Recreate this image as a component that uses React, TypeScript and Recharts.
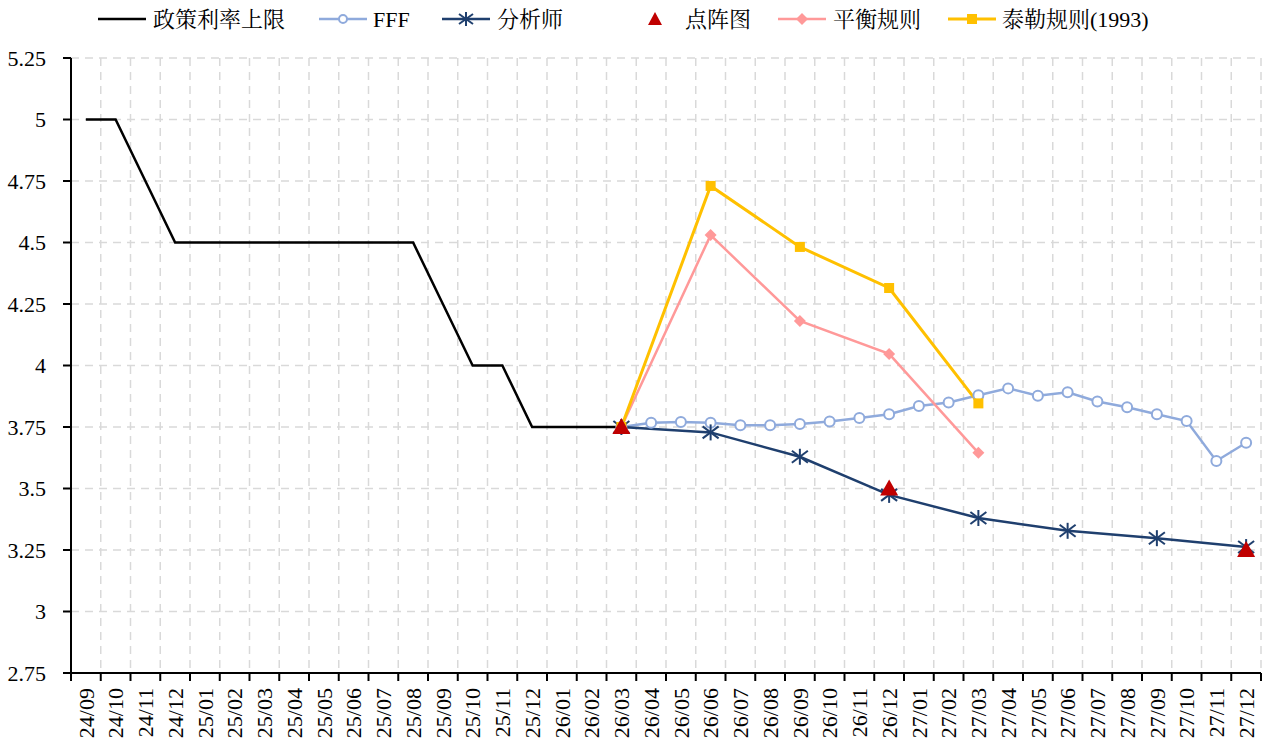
import { LineChart, Line, XAxis, YAxis, CartesianGrid } from 'recharts';

// 月份（横轴）
const months = [
    '24/09', '24/10', '24/11', '24/12', '25/01', '25/02', '25/03', '25/04', '25/05', '25/06',
    '25/07', '25/08', '25/09', '25/10', '25/11', '25/12', '26/01', '26/02', '26/03', '26/04',
    '26/05', '26/06', '26/07', '26/08', '26/09', '26/10', '26/11', '26/12', '27/01', '27/02',
    '27/03', '27/04', '27/05', '27/06', '27/07', '27/08', '27/09', '27/10', '27/11', '27/12',
];

// 政策利率上限: 24/09 ~ 26/03
const policyRate = [5, 5, 4.75, 4.5, 4.5, 4.5, 4.5, 4.5, 4.5, 4.5, 4.5, 4.5, 4.25, 4, 4, 3.75, 3.75, 3.75, 3.75];

// FFF: 26/03 ~ 27/12
const fffStartMonth = '26/03';
const fff = [3.75, 3.767, 3.77, 3.767, 3.757, 3.757, 3.762, 3.772, 3.787, 3.802, 3.835, 3.85, 3.879, 3.907, 3.877, 3.891, 3.854, 3.83, 3.802, 3.774, 3.612, 3.686];

// 季度预测
const quarterMonths = ['26/03', '26/06', '26/09', '26/12', '27/03', '27/06', '27/09', '27/12'];
const analyst = [3.75, 3.728, 3.629, 3.474, 3.38, 3.328, 3.298, 3.262];
const dotPlot = [3.75, null, null, 3.5, null, null, null, 3.25];
const balancedRule = [3.75, 4.53, 4.181, 4.047, 3.645, null, null, null];
const taylorRule = [3.75, 4.73, 4.482, 4.315, 3.846, null, null, null];

const yTicks = [2.75, 3, 3.25, 3.5, 3.75, 4, 4.25, 4.5, 4.75, 5, 5.25];

const C_POLICY = '#000000';
const C_FFF = '#8FAADC';
const C_ANALYST = '#1F3F6E';
const C_DOT = '#C00000';
const C_BAL = '#FF9999';
const C_TAYLOR = '#FFC000';

const FONT = '"Liberation Serif", "Noto Serif CJK SC", "Noto Sans CJK SC", serif';

const fffStart = months.indexOf(fffStartMonth);
const data = months.map((m, i) => {
    const q = quarterMonths.indexOf(m);
    return {
        month: m,
        policy: i < policyRate.length ? policyRate[i] : null,
        fff: i >= fffStart ? fff[i - fffStart] : null,
        analyst: q >= 0 ? analyst[q] : null,
        dot: q >= 0 ? dotPlot[q] : null,
        balanced: q >= 0 ? balancedRule[q] : null,
        taylor: q >= 0 ? taylorRule[q] : null,
    };
});

const PLOT_W = 1190;
const BAND = PLOT_W / months.length;

const empty = (key: string) => <g key={key} />;

const CircleDot = (props: any) => {
    const { cx, cy, value, index } = props;
    if (value == null || cy == null) return empty(`c-${index}`);
    return <circle key={`c-${index}`} cx={cx} cy={cy} r={5} fill="#fff" stroke={C_FFF} strokeWidth={2} />;
};

const StarDot = (props: any) => {
    const { cx, cy, value, index } = props;
    if (value == null || cy == null) return empty(`s-${index}`);
    return (
        <g key={`s-${index}`} stroke={C_ANALYST} strokeWidth={2}>
            <line x1={cx} y1={cy - 8} x2={cx} y2={cy + 8} />
            <line x1={cx - 8} y1={cy - 6} x2={cx + 8} y2={cy + 6} />
            <line x1={cx - 8} y1={cy + 6} x2={cx + 8} y2={cy - 6} />
        </g>
    );
};

const TriangleDot = (props: any) => {
    const { cx, cy, value, index } = props;
    if (value == null || cy == null) return empty(`t-${index}`);
    return <path key={`t-${index}`} d={`M${cx},${cy - 9} L${cx + 9},${cy + 7} L${cx - 9},${cy + 7} Z`} fill={C_DOT} />;
};

const DiamondDot = (props: any) => {
    const { cx, cy, value, index } = props;
    if (value == null || cy == null) return empty(`d-${index}`);
    return <path key={`d-${index}`} d={`M${cx},${cy - 6} L${cx + 6},${cy} L${cx},${cy + 6} L${cx - 6},${cy} Z`} fill={C_BAL} />;
};

const SquareDot = (props: any) => {
    const { cx, cy, value, index } = props;
    if (value == null || cy == null) return empty(`q-${index}`);
    return <rect key={`q-${index}`} x={cx - 5} y={cy - 5} width={10} height={10} fill={C_TAYLOR} />;
};

const MonthTick = (props: any) => {
    const { x, y, payload, index } = props;
    const last = index === months.length - 1;
    return (
        <g>
            <line x1={x - BAND / 2} y1={y} x2={x - BAND / 2} y2={y + 8} stroke="#000" strokeWidth={2} />
            {last && <line x1={x + BAND / 2} y1={y} x2={x + BAND / 2} y2={y + 8} stroke="#000" strokeWidth={2} />}
            <text
                x={x}
                y={y + 15}
                dy="0.35em"
                transform={`rotate(-90, ${x}, ${y + 15})`}
                textAnchor="end"
                fill="#000"
                style={{ fontFamily: FONT, fontSize: 22 }}
            >
                {payload.value}
            </text>
        </g>
    );
};

const ValueTick = (props: any) => {
    const { x, y, payload } = props;
    return (
        <text x={x} y={y} dy="0.35em" textAnchor="end" fill="#000" style={{ fontFamily: FONT, fontSize: 22 }}>
            {payload.value}
        </text>
    );
};

// 图例
const legendItems = [
    { label: '政策利率上限', x: 98, textX: 153, kind: 'policy' },
    { label: 'FFF', x: 319, textX: 373, kind: 'fff' },
    { label: '分析师', x: 442, textX: 497, kind: 'analyst' },
    { label: '点阵图', x: 655, textX: 685, kind: 'dot' },
    { label: '平衡规则', x: 778, textX: 833, kind: 'balanced' },
    { label: '泰勒规则(1993)', x: 948, textX: 1002, kind: 'taylor' },
];

function LegendIcon({ kind, x }: { kind: string; x: number }) {
    const y = 19;
    const mid = x + 24;
    const line = (color: string, w = 2.5) => <line x1={x} y1={y} x2={x + 48} y2={y} stroke={color} strokeWidth={w} />;
    switch (kind) {
        case 'policy':
            return line(C_POLICY);
        case 'fff':
            return <g>{line(C_FFF)}<circle cx={mid} cy={y} r={4} fill="#fff" stroke={C_FFF} strokeWidth={2} /></g>;
        case 'analyst':
            return (
                <g>
                    {line(C_ANALYST)}
                    <g stroke={C_ANALYST} strokeWidth={2}>
                        <line x1={mid} y1={y - 7} x2={mid} y2={y + 7} />
                        <line x1={mid - 7} y1={y - 5} x2={mid + 7} y2={y + 5} />
                        <line x1={mid - 7} y1={y + 5} x2={mid + 7} y2={y - 5} />
                    </g>
                </g>
            );
        case 'dot':
            return <path d={`M${x},${y - 7} L${x + 7},${y + 6} L${x - 7},${y + 6} Z`} fill={C_DOT} />;
        case 'balanced':
            return <g>{line(C_BAL)}<path d={`M${mid},${y - 6} L${mid + 6},${y} L${mid},${y + 6} L${mid - 6},${y} Z`} fill={C_BAL} /></g>;
        default:
            return <g>{line(C_TAYLOR, 3)}<rect x={mid - 5} y={y - 5} width={10} height={10} fill={C_TAYLOR} /></g>;
    }
}

export default function App() {
    return (
        <div style={{ position: 'relative', width: 1267, height: 744, background: '#fff' }}>
            <style>{'body { margin: 0; }'}</style>
            <LineChart width={1267} height={744} data={data} margin={{ top: 58, right: 6, left: 0, bottom: 0 }}>
                <CartesianGrid
                    stroke="#D9D9D9"
                    strokeWidth={1.5}
                    strokeDasharray="8 6"
                    verticalCoordinatesGenerator={({ offset }: any) =>
                        months.map((_, i) => offset.left + ((i + 1) * offset.width) / months.length)
                    }
                />
                <XAxis
                    dataKey="month"
                    interval={0}
                    height={71}
                    padding={{ left: BAND / 2, right: BAND / 2 }}
                    tickLine={false}
                    tickSize={0}
                    tickMargin={0}
                    axisLine={{ stroke: '#000', strokeWidth: 2 }}
                    tick={<MonthTick />}
                />
                <YAxis
                    type="number"
                    domain={[2.75, 5.25]}
                    ticks={yTicks}
                    interval={0}
                    width={71}
                    tickSize={8}
                    tickMargin={17}
                    axisLine={{ stroke: '#000', strokeWidth: 2 }}
                    tickLine={{ stroke: '#000', strokeWidth: 2 }}
                    tick={<ValueTick />}
                />
                <Line dataKey="policy" stroke={C_POLICY} strokeWidth={2.5} dot={false} isAnimationActive={false} />
                <Line dataKey="fff" stroke={C_FFF} strokeWidth={2.5} dot={<CircleDot />} isAnimationActive={false} />
                <Line dataKey="analyst" stroke={C_ANALYST} strokeWidth={2.5} dot={<StarDot />} connectNulls isAnimationActive={false} />
                <Line dataKey="balanced" stroke={C_BAL} strokeWidth={2.5} dot={<DiamondDot />} connectNulls isAnimationActive={false} />
                <Line dataKey="taylor" stroke={C_TAYLOR} strokeWidth={3} dot={<SquareDot />} connectNulls isAnimationActive={false} />
                <Line dataKey="dot" stroke="none" dot={<TriangleDot />} isAnimationActive={false} />
            </LineChart>
            <svg width={1267} height={40} style={{ position: 'absolute', left: 0, top: 0 }}>
                {legendItems.map(item => (
                    <g key={item.kind}>
                        <LegendIcon kind={item.kind} x={item.x} />
                        <text
                            x={item.textX}
                            y={19}
                            dominantBaseline="central"
                            fill="#000"
                            style={{ fontFamily: FONT, fontSize: 22 }}
                        >
                            {item.label}
                        </text>
                    </g>
                ))}
            </svg>
        </div>
    );
}
